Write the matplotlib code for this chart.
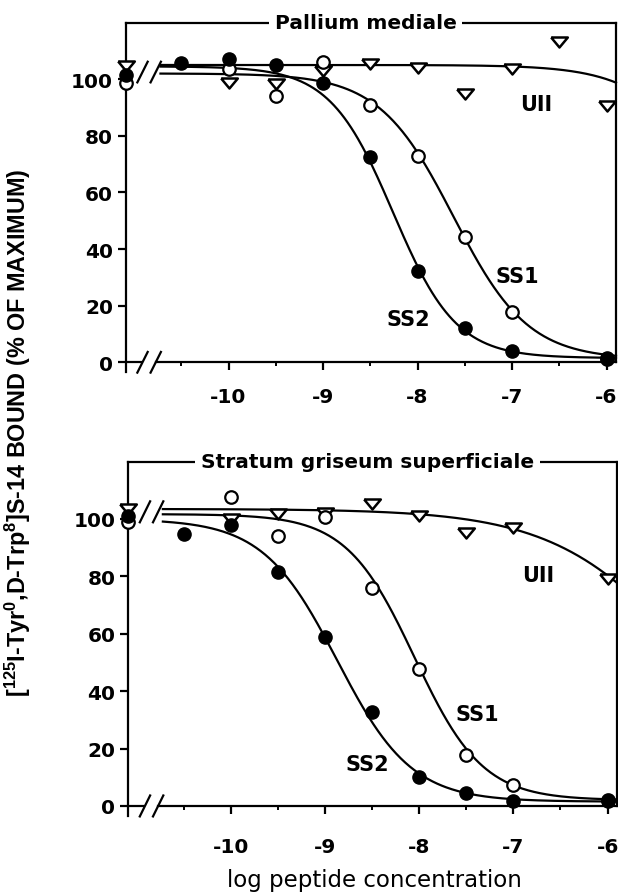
import numpy as np
import matplotlib
matplotlib.use("Agg")
import matplotlib.pyplot as plt

plt.rcParams['font.family'] = ['Liberation Sans', 'DejaVu Sans']
plt.rcParams['mathtext.default'] = 'regular'
plt.rcParams['axes.unicode_minus'] = False

nan = np.nan
# ---------------- data ----------------
log_conc = [-10.5, -10.0, -9.5, -9.0, -8.5, -8.0, -7.5, -7.0, -6.5, -6.0]
x_ticks = [-10, -9, -8, -7, -6]
x_ticklabels = ['-10', '-9', '-8', '-7', '-6']
x_minor = [-10.5, -9.5, -8.5, -7.5, -6.5]
y_ticks = [0, 20, 40, 60, 80, 100]

# Pallium mediale
pm_ss2 = [105.6, 107.1, 104.9, 98.8, 72.4, 32.3, 12.1, 4.1, nan, 1.4]
pm_ss1 = [nan, 103.5, 94.1, 105.9, 90.8, 72.9, 44.1, 17.9, nan, 1.0]
pm_uii = [nan, 98.8, 98.2, 102.9, 105.3, 104.1, 94.7, 103.5, 113.0, 90.6]
pm_control = [101.5, 98.5, 104.5]          # SS2, SS1, UII (no peptide)
# fitted curves: top, bottom, log IC50, Hill slope
pm_fit_ss2 = [104.5, 1.5, -8.26, 1.3]
pm_fit_ss1 = [102.0, 1.0, -7.62, 1.1]
pm_fit_uii = [105.0, 0.0, -4.70, 1.0]

# Stratum griseum superficiale
sgs_ss2 = [94.8, 97.9, 81.6, 58.8, 32.9, 10.0, 4.6, 1.9, nan, 1.9]
sgs_ss1 = [nan, 107.6, 94.2, 100.6, 75.9, 47.7, 17.9, 7.3, nan, 2.0]
sgs_uii = [nan, 100.0, 101.7, 102.0, 105.2, 101.2, 95.0, 96.8, nan, 79.1]
sgs_control = [101.0, 99.0, 103.5]
sgs_fit_ss2 = [100.0, 1.5, -8.87, 1.1]
sgs_fit_ss1 = [101.7, 2.0, -8.05, 1.2]
sgs_fit_uii = [103.5, 0.0, -5.10, 0.6]

titles = ['Pallium mediale', 'Stratum griseum superficiale']

# ---------------- layout ----------------
W, H = 618, 895
fig = plt.figure(figsize=(W / 100, H / 100), dpi=100)

XMIN, XMAX = -11.09, -5.90
YMIN, YMAX = -3.5, 120
BREAK_X = [-10.91, -10.77]
CURVE_X0 = -10.72

TRI = [(-1, 0.6), (1, 0.6), (0, -0.6), (-1, 0.6)]
LW = 1.6
WIDE = ['DejaVu Sans']


def logistic(x, p):
    top, bot, c, h = p
    return bot + (top - bot) / (1 + 10 ** ((x - c) * h))


def draw_break(ax, yc, hh, hw=0.06):
    for xc in BREAK_X:
        ax.plot([xc - hw, xc + hw], [yc - hh, yc + hh], color='black',
                lw=LW, clip_on=False, zorder=6, solid_capstyle='butt')


def panel(rect, title, ss2, ss1, uii, ctrl, fits, labels, tick_pad):
    ax = fig.add_axes(rect)
    ax.set_xlim(XMIN, XMAX)
    ax.set_ylim(YMIN, YMAX)
    for s in ['left', 'top', 'right', 'bottom']:
        ax.spines[s].set_linewidth(LW)
    ax.spines['right'].set_bounds(0, YMAX)
    ax.spines['bottom'].set_position(('data', 0))
    ax.spines['bottom'].set_bounds(BREAK_X[1], XMAX)
    ax.plot([XMIN, BREAK_X[0]], [0, 0], color='black', lw=LW, clip_on=False,
            solid_capstyle='butt')
    draw_break(ax, 0, 4.0)
    draw_break(ax, 102.5, 4.0)

    ax.set_xticks(x_ticks)
    ax.set_xticklabels(x_ticklabels)
    ax.set_xticks(x_minor, minor=True)
    ax.set_yticks(y_ticks)
    ax.tick_params(axis='both', which='major', direction='out', length=6,
                   width=LW)
    ax.tick_params(axis='x', which='major', pad=tick_pad)
    ax.tick_params(axis='y', which='major', pad=3)
    ax.tick_params(axis='x', which='minor', direction='out', length=3, width=1.4)
    for lab in ax.get_xticklabels() + ax.get_yticklabels():
        lab.set_family(WIDE)
        lab.set_fontweight('bold')
        lab.set_fontsize(14.5)

    xs = np.linspace(CURVE_X0, XMAX, 400)
    for p in fits:
        ax.plot(xs, logistic(xs, p), color='black', lw=LW, zorder=2,
                clip_on=False)

    ax.plot(log_conc, uii, linestyle='none', marker=TRI, ms=12,
            mfc='white', mec='black', mew=1.8, zorder=3, clip_on=False)
    ax.plot(log_conc, ss1, linestyle='none', marker='o', ms=9,
            mfc='white', mec='black', mew=1.6, zorder=4, clip_on=False)
    ax.plot(log_conc, ss2, linestyle='none', marker='o', ms=9.5,
            mfc='black', mec='black', mew=1, zorder=5, clip_on=False)
    ax.plot([XMIN], [ctrl[2]], linestyle='none', marker=TRI, ms=12,
            mfc='white', mec='black', mew=1.8, zorder=3, clip_on=False)
    ax.plot([XMIN], [ctrl[1]], linestyle='none', marker='o', ms=9,
            mfc='white', mec='black', mew=1.6, zorder=4, clip_on=False)
    ax.plot([XMIN], [ctrl[0]], linestyle='none', marker='o', ms=9.5,
            mfc='black', mec='black', mew=1, zorder=5, clip_on=False)

    for txt, (lx, ly) in labels:
        ax.text(lx, ly, txt, ha='center', va='center', fontsize=15,
                fontweight='bold', family=WIDE)

    ax.text(0.49, 1.0, title, transform=ax.transAxes, ha='center',
            va='center', fontsize=14.5, fontweight='bold', family=WIDE,
            bbox=dict(facecolor='white', edgecolor='none', pad=4))
    return ax


ax1 = panel([125.5 / W, 1 - 373.2 / H, 490.5 / W, (373.2 - 23.5) / H],
            titles[0], pm_ss2, pm_ss1, pm_uii, pm_control,
            [pm_fit_uii, pm_fit_ss1, pm_fit_ss2],
            [('SS1', (-6.94, 30.4)), ('SS2', (-8.10, 15.3)), ('UII', (-6.74, 91.2))],
            tick_pad=12)
ax2 = panel([128 / W, 1 - 817 / H, 489 / W, (817 - 462.6) / H],
            titles[1], sgs_ss2, sgs_ss1, sgs_uii, sgs_control,
            [sgs_fit_uii, sgs_fit_ss1, sgs_fit_ss2],
            [('SS1', (-7.38, 32)), ('SS2', (-8.55, 14.6)), ('UII', (-6.74, 80.5))],
            tick_pad=16)

fig.text(18 / W, 1 - 433 / H,
         '[$^{125}$I-Tyr$^{0}$,D-Trp$^{8}$]S-14 BOUND (% OF MAXIMUM)',
         rotation=90, ha='center', va='center', fontsize=16.8, fontweight='bold')
fig.text(374 / W, 1 - 881 / H, 'log peptide concentration', ha='center',
         va='center', fontsize=16.5, family=WIDE)

fig.savefig('out.png', dpi=100)
